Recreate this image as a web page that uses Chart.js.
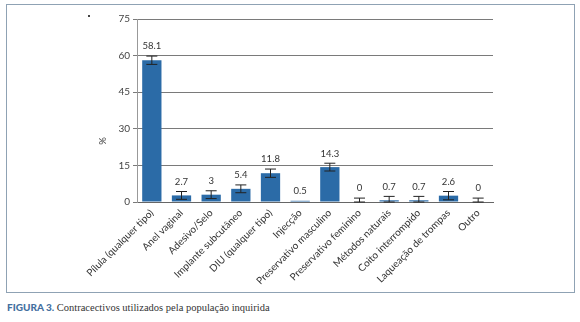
<!DOCTYPE html>
<html>
<head>
<meta charset="utf-8">
<script src="https://cdn.jsdelivr.net/npm/chart.js@4/dist/chart.umd.min.js"></script>
<style>
  body { margin: 0; width: 580px; height: 322px; background: #fff; position: relative; overflow: hidden; }
  #frame { position: absolute; left: 6px; top: 4px; width: 567px; height: 287px; border: 1.5px solid #8fa2b4; }
  #wrap { position: absolute; left: 0; top: 0; width: 580px; height: 296px; }
  #dot { position: absolute; left: 88px; top: 15px; width: 2px; height: 2px; background: #444; }
  #caption { position: absolute; left: 7px; top: 301px; font-family: "Liberation Serif", "Times New Roman", "DejaVu Serif", serif; font-size: 10.5px; color: #333; white-space: nowrap; }
  #caption b { font-family: Lato, sans-serif; font-weight: 900; font-size: 10px; color: #44709f; }
</style>
</head>
<body>
<div id="frame"></div>
<div id="dot"></div>
<div id="wrap"><canvas id="contraChart" width="580" height="296"></canvas></div>
<div id="caption"><b>FIGURA 3.</b> <span class="serif">Contracectivos utilizados pela população inquirida</span></div>
<script>
const methods = ['Pílula (qualquer tipo)', 'Anel vaginal', 'Adesivo/Selo', 'Implante subcutâneo', 'DIU (qualquer tipo)', 'Injecção',
  'Preservativo masculino', 'Preservativo feminino', 'Métodos naturais', 'Coito interrompido', 'Laqueação de trompas', 'Outro'];
const percentages = [58.1, 2.7, 3, 5.4, 11.8, 0.5, 14.3, 0, 0.7, 0.7, 2.6, 0];
const errorMargins = [1.7, 1.6, 1.6, 1.6, 1.7, null, 1.6, 1.6, 1.6, 1.6, 1.7, 1.6];
const yTicks = [0, 15, 30, 45, 60, 75];

// error bars + value labels drawn on top of the bars
const errorBarPlugin = {
  id: 'errorBars',
  afterDatasetsDraw(chart) {
    const ctx = chart.ctx;
    const yScale = chart.scales.y;
    const meta = chart.getDatasetMeta(0);
    ctx.save();
    meta.data.forEach((bar, i) => {
      const v = percentages[i];
      const e = errorMargins[i];
      let topY = yScale.getPixelForValue(v);
      if (e !== null) {
        const hi = yScale.getPixelForValue(v + e);
        const lo = yScale.getPixelForValue(Math.max(0, v - e));
        ctx.strokeStyle = '#222';
        ctx.lineWidth = 1;
        ctx.beginPath();
        ctx.moveTo(bar.x, hi); ctx.lineTo(bar.x, lo);
        ctx.moveTo(bar.x - 5.5, hi); ctx.lineTo(bar.x + 5.5, hi);
        ctx.moveTo(bar.x - 5.5, lo); ctx.lineTo(bar.x + 5.5, lo);
        ctx.stroke();
        topY = hi;
      }
      ctx.fillStyle = '#333';
      ctx.font = '9.5px Lato';
      ctx.textAlign = 'center';
      ctx.textBaseline = 'bottom';
      ctx.fillText(String(v), bar.x, topY - 5);
    });
    // rotated axis title
    ctx.translate(103, 141);
    ctx.rotate(-Math.PI / 2);
    ctx.fillStyle = '#444';
    ctx.font = '9.5px Lato';
    ctx.textAlign = 'center';
    ctx.textBaseline = 'middle';
    ctx.fillText('%', 0, 0);
    ctx.restore();
  }
};

new Chart(document.getElementById('contraChart').getContext('2d'), {
  type: 'bar',
  data: {
    labels: methods,
    datasets: [{
      data: percentages,
      backgroundColor: '#2b6ba7',
      borderWidth: 0,
      categoryPercentage: 0.65,
      barPercentage: 1
    }]
  },
  options: {
    responsive: false,
    animation: false,
    layout: { padding: { left: 0, right: 87, top: 19, bottom: 0 } },
    plugins: { legend: { display: false }, tooltip: { enabled: false } },
    scales: {
      x: {
        grid: { display: false, drawTicks: false },
        border: { color: '#666', width: 1 },
        ticks: {
          color: '#333',
          font: { family: 'Lato', size: 10 },
          maxRotation: 45,
          minRotation: 45,
          padding: 5,
          autoSkip: false
        },
        afterFit(scale) { scale.height = 94; }
      },
      y: {
        min: 0,
        max: 75,
        afterBuildTicks(scale) { scale.ticks = yTicks.map(v => ({ value: v })); },
        grid: { color: '#7a7a7a', lineWidth: 1, tickLength: 4 },
        border: { color: '#999', width: 1 },
        ticks: { color: '#444', font: { family: 'Lato', size: 10 }, padding: 3 },
        afterFit(scale) { scale.width = 137; }
      }
    }
  },
  plugins: [errorBarPlugin]
});
</script>
</body>
</html>
